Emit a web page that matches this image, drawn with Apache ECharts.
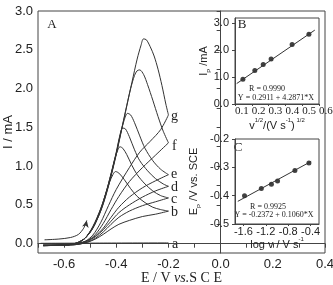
<!DOCTYPE html>
<html>
<head>
<meta charset="utf-8">
<script src="https://cdn.jsdelivr.net/npm/echarts@6/dist/echarts.min.js"></script>
<style>
  html, body { margin: 0; padding: 0; background: #fff; }
  #chart { width: 333px; height: 285px; }
</style>
</head>
<body>
<div id="chart"></div>
<script>
// ---- panel A: ticks ----
const xTicksA = [-0.7, -0.6, -0.5, -0.4, -0.3, -0.2, -0.1, 0, 0.1, 0.2, 0.3, 0.4];
const xLabelsA = [-0.6, -0.4, -0.2, 0, 0.2, 0.4];
const yTicksA = [0, 0.25, 0.5, 0.75, 1, 1.25, 1.5, 1.75, 2, 2.25, 2.5, 2.75, 3];
const yLabelsA = [0, 0.5, 1, 1.5, 2, 2.5, 3];

// ---- panel A: voltammograms [E / V, I / mA], forward + reverse scans ----
const curveA = [[-0.69, 0.005], [-0.45, 0.008], [-0.2, 0.01]];

const fwdB = [[-0.68,-0.02],[-0.62,-0.02],[-0.58,-0.012],[-0.55,0.01],[-0.52,0.07],[-0.49,0.22],[-0.46,0.45],[-0.44,0.65],[-0.425,0.8],[-0.413,0.89],[-0.403,0.93],[-0.39,0.91],[-0.37,0.83],[-0.345,0.71],[-0.32,0.61],[-0.29,0.53],[-0.26,0.47],[-0.23,0.44],[-0.2,0.42]];
const revB = [[-0.2,0.42],[-0.25,0.38],[-0.3,0.35],[-0.35,0.3],[-0.39,0.25],[-0.42,0.19],[-0.45,0.12],[-0.48,0.06],[-0.51,0.02],[-0.55,-0.01],[-0.62,-0.02],[-0.68,-0.025]];

const fwdC = [[-0.68,-0.02],[-0.62,-0.02],[-0.58,-0.012],[-0.55,0.01],[-0.52,0.07],[-0.49,0.21],[-0.46,0.44],[-0.44,0.65],[-0.42,0.9],[-0.405,1.1],[-0.395,1.2],[-0.386,1.25],[-0.375,1.23],[-0.36,1.15],[-0.34,1.01],[-0.32,0.89],[-0.29,0.77],[-0.26,0.68],[-0.23,0.62],[-0.2,0.59]];
const revC = [[-0.2,0.59],[-0.25,0.54],[-0.3,0.49],[-0.35,0.42],[-0.39,0.34],[-0.42,0.25],[-0.45,0.15],[-0.48,0.07],[-0.51,0.02],[-0.55,-0.01],[-0.62,-0.02],[-0.68,-0.025]];

const fwdD = [[-0.68,-0.02],[-0.62,-0.02],[-0.58,-0.012],[-0.55,0.01],[-0.52,0.07],[-0.49,0.21],[-0.46,0.44],[-0.44,0.65],[-0.42,0.9],[-0.40,1.18],[-0.388,1.37],[-0.376,1.49],[-0.365,1.48],[-0.35,1.38],[-0.33,1.21],[-0.31,1.07],[-0.28,0.94],[-0.25,0.84],[-0.22,0.77],[-0.2,0.74]];
const revD = [[-0.2,0.74],[-0.25,0.68],[-0.3,0.6],[-0.35,0.5],[-0.39,0.4],[-0.42,0.29],[-0.45,0.18],[-0.48,0.09],[-0.51,0.03],[-0.55,-0.01],[-0.62,-0.02],[-0.68,-0.025]];

const fwdE = [[-0.68,-0.02],[-0.62,-0.02],[-0.58,-0.012],[-0.55,0.01],[-0.52,0.07],[-0.49,0.2],[-0.46,0.43],[-0.44,0.64],[-0.42,0.89],[-0.40,1.17],[-0.385,1.4],[-0.37,1.59],[-0.357,1.68],[-0.345,1.66],[-0.33,1.56],[-0.31,1.39],[-0.29,1.23],[-0.26,1.07],[-0.23,0.96],[-0.2,0.89]];
const revE = [[-0.2,0.89],[-0.25,0.81],[-0.3,0.72],[-0.35,0.6],[-0.39,0.47],[-0.42,0.34],[-0.45,0.2],[-0.48,0.1],[-0.51,0.04],[-0.55,0],[-0.62,-0.02],[-0.68,-0.025]];

const fwdF = [[-0.68,-0.02],[-0.62,-0.02],[-0.58,-0.012],[-0.55,0.01],[-0.52,0.07],[-0.49,0.2],[-0.46,0.42],[-0.44,0.63],[-0.42,0.88],[-0.40,1.16],[-0.38,1.47],[-0.36,1.78],[-0.345,2.0],[-0.33,2.17],[-0.32,2.23],[-0.31,2.24],[-0.295,2.18],[-0.28,2.05],[-0.26,1.85],[-0.24,1.64],[-0.22,1.45],[-0.2,1.3]];
const revF = [[-0.2,1.3],[-0.25,1.14],[-0.3,0.98],[-0.35,0.8],[-0.39,0.61],[-0.42,0.44],[-0.45,0.26],[-0.48,0.12],[-0.51,0.04],[-0.55,0],[-0.62,-0.02],[-0.68,-0.025]];

const fwdG = [[-0.68,-0.02],[-0.62,-0.02],[-0.58,-0.012],[-0.55,0.01],[-0.52,0.07],[-0.49,0.2],[-0.46,0.42],[-0.44,0.62],[-0.42,0.87],[-0.40,1.15],[-0.38,1.46],[-0.36,1.77],[-0.34,2.08],[-0.32,2.38],[-0.305,2.56],[-0.296,2.64],[-0.285,2.63],[-0.27,2.54],[-0.255,2.42],[-0.24,2.25],[-0.225,2.04],[-0.21,1.8],[-0.2,1.66]];
const revG = [[-0.2,1.66],[-0.23,1.47],[-0.27,1.32],[-0.31,1.18],[-0.35,0.98],[-0.40,0.7],[-0.43,0.49],[-0.46,0.27],[-0.49,0.11],[-0.52,0.03],[-0.56,0],[-0.62,-0.02],[-0.68,-0.025]];

// scan direction arrow
const arrowPts = [[-0.675,0.05],[-0.62,0.06],[-0.575,0.08],[-0.545,0.12],[-0.525,0.2],[-0.513,0.3]];

// ---- inset B: Ip vs v^1/2 ----
const sqrtRate = [0.147, 0.218, 0.268, 0.315, 0.44, 0.54];
const peakCurrent = [0.92, 1.25, 1.47, 1.67, 2.21, 2.60];
const fitB = [[0.11, 0.76], [0.575, 2.75]];
const xTicksB = [0.1, 0.2, 0.3, 0.4, 0.5, 0.6];
const yTicksB = [0, 1, 2, 3];

// ---- inset C: Ep vs log v ----
const logRate = [-1.58, -1.28, -1.10, -0.99, -0.68, -0.43];
const peakPot = [-0.400, -0.375, -0.360, -0.348, -0.311, -0.285];
const fitC = [[-1.70, -0.42], [-0.39, -0.279]];
const xTicksC = [-1.6, -1.2, -0.8, -0.4];
const yTicksC = [-0.5, -0.4, -0.3, -0.2];

const SANS = '"Liberation Sans", Arial, sans-serif';
const SERIF = '"Liberation Serif", "Times New Roman", serif';
const INK = '#222';
const LINE = '#333';
const fmt1 = v => v.toFixed(1);

const chart = echarts.init(document.getElementById('chart'), null, { renderer: 'canvas' });

function cv(data) {
  return {
    type: 'line', xAxisIndex: 0, yAxisIndex: 0, data,
    smooth: 0.3, showSymbol: false, symbol: 'none', silent: true,
    lineStyle: { color: LINE, width: 1 }
  };
}

function axisBase(opts) {
  return Object.assign({
    type: 'value',
    splitLine: { show: false },
    nameMoveOverlap: false,
    axisLine: { show: true, lineStyle: { color: '#444', width: 1 } }
  }, opts);
}

function txt(text, x, y, font, align) {
  return {
    type: 'text', x, y, silent: true,
    style: {
      text, font, fill: INK,
      textAlign: align || 'center', align: align || 'center',
      textVerticalAlign: 'middle', verticalAlign: 'middle'
    }
  };
}

const arrowData = arrowPts.map((p, i) => i === arrowPts.length - 1
  ? { value: p, symbol: 'arrow', symbolSize: [5, 7], symbolRotate: -12 }
  : { value: p });

const gridBox = { show: true, borderColor: '#444', borderWidth: 1, containLabel: false, outerBoundsMode: 'none' };

const option = {
  animation: false,
  backgroundColor: '#fff',
  grid: [
    Object.assign({ left: 38, top: 11, width: 287, height: 242 }, gridBox),
    Object.assign({ left: 235, top: 18, width: 84, height: 86 }, gridBox),
    Object.assign({ left: 235, top: 139, width: 84, height: 85 }, gridBox)
  ],
  xAxis: [
    axisBase({
      gridIndex: 0, min: -0.7, max: 0.4,
      axisTick: { customValues: xTicksA, length: 4, lineStyle: { color: '#444' } },
      axisLabel: { customValues: xLabelsA, formatter: fmt1, fontFamily: SANS, fontSize: 13, color: INK, margin: 5 },
      name: '{n|E / V }{i|vs.}{n|S C E}', nameLocation: 'middle', nameGap: 18,
      nameTextStyle: { rich: {
        n: { fontFamily: SERIF, fontSize: 14, color: INK },
        i: { fontFamily: SERIF, fontSize: 14, fontStyle: 'italic', color: INK }
      } }
    }),
    axisBase({
      gridIndex: 1, min: 0.1, max: 0.6,
      axisTick: { customValues: xTicksB, length: 2, lineStyle: { color: '#444' } },
      axisLabel: { customValues: xTicksB, formatter: fmt1, fontFamily: SERIF, fontSize: 11, color: INK, margin: 2, align: 'left' },
      name: '{n|v}{p|1/2}{n|/(V s}{p|-1}{n|)}{p| 1/2}', nameLocation: 'middle', nameGap: 13,
      nameTextStyle: { rich: {
        n: { fontFamily: SANS, fontSize: 11, color: INK, lineHeight: 14, verticalAlign: 'bottom' },
        p: { fontFamily: SANS, fontSize: 6, color: INK, verticalAlign: 'top' }
      } }
    }),
    axisBase({
      gridIndex: 2, min: -1.75, max: -0.25,
      axisTick: { customValues: xTicksC, length: 2, lineStyle: { color: '#444' } },
      axisLabel: { customValues: xTicksC, formatter: fmt1, fontFamily: SANS, fontSize: 11, color: INK, margin: 2 },
      name: '{n|log v / V s}{p|-1}', nameLocation: 'middle', nameGap: 12,
      nameTextStyle: { rich: {
        n: { fontFamily: SANS, fontSize: 11, color: INK, lineHeight: 14, verticalAlign: 'bottom' },
        p: { fontFamily: SANS, fontSize: 6, color: INK, verticalAlign: 'top' }
      } }
    })
  ],
  yAxis: [
    axisBase({
      gridIndex: 0, min: -0.12, max: 3.0,
      axisTick: { customValues: yTicksA, length: 4, lineStyle: { color: '#444' } },
      axisLabel: { customValues: yLabelsA, formatter: fmt1, fontFamily: SANS, fontSize: 13, color: INK, margin: 5 },
      name: 'I / mA', nameLocation: 'middle', nameGap: 23, nameRotate: 90,
      nameTextStyle: { fontFamily: SANS, fontSize: 13, color: INK }
    }),
    axisBase({
      gridIndex: 1, min: 0, max: 3.2,
      axisTick: { customValues: yTicksB, length: 3, lineStyle: { color: '#444' } },
      axisLabel: { customValues: yTicksB, formatter: fmt1, fontFamily: SANS, fontSize: 11, color: INK, margin: 6 },
      name: '{n|I}{s|P}{n| /mA}', nameLocation: 'middle', nameGap: 23, nameRotate: 90,
      nameTextStyle: { rich: {
        n: { fontFamily: SANS, fontSize: 11, color: INK, lineHeight: 14, verticalAlign: 'top' },
        s: { fontFamily: SANS, fontSize: 6, color: INK, verticalAlign: 'bottom' }
      } }
    }),
    axisBase({
      gridIndex: 2, min: -0.5, max: -0.2,
      axisTick: { customValues: yTicksC, length: 3, lineStyle: { color: '#444' } },
      axisLabel: { customValues: yTicksC, formatter: fmt1, fontFamily: SANS, fontSize: 11, color: INK, margin: 6 },
      name: '{n|E}{s|P}{n| /V vs. SCE}', nameLocation: 'middle', nameGap: 33, nameRotate: 90,
      nameTextStyle: { rich: {
        n: { fontFamily: SANS, fontSize: 11, color: INK, lineHeight: 14, verticalAlign: 'top' },
        s: { fontFamily: SANS, fontSize: 6, color: INK, verticalAlign: 'bottom' }
      } }
    })
  ],
  series: [
    cv(curveA),
    cv(fwdB), cv(revB), cv(fwdC), cv(revC), cv(fwdD), cv(revD),
    cv(fwdE), cv(revE), cv(fwdF), cv(revF), cv(fwdG), cv(revG),
    {
      type: 'line', xAxisIndex: 0, yAxisIndex: 0, data: arrowData,
      smooth: 0.3, symbol: 'none', showSymbol: true, silent: true,
      lineStyle: { color: LINE, width: 1 }, itemStyle: { color: LINE }
    },
    {
      type: 'line', xAxisIndex: 1, yAxisIndex: 1, data: fitB,
      symbol: 'none', silent: true, lineStyle: { color: LINE, width: 1 }
    },
    {
      type: 'scatter', xAxisIndex: 1, yAxisIndex: 1,
      data: sqrtRate.map((x, i) => [x, peakCurrent[i]]),
      symbolSize: 5, itemStyle: { color: '#111' }, silent: true
    },
    {
      type: 'line', xAxisIndex: 2, yAxisIndex: 2, data: fitC,
      symbol: 'none', silent: true, lineStyle: { color: LINE, width: 1 }
    },
    {
      type: 'scatter', xAxisIndex: 2, yAxisIndex: 2,
      data: logRate.map((x, i) => [x, peakPot[i]]),
      symbolSize: 5, itemStyle: { color: '#111' }, silent: true
    }
  ],
  graphic: [
    txt('A', 52, 25, '13px ' + SERIF),
    txt('B', 242, 25, '13px ' + SERIF),
    txt('C', 238, 148, '13px ' + SERIF),
    txt('g', 171, 116, '14px ' + SERIF, 'left'),
    txt('f', 172, 146, '14px ' + SERIF, 'left'),
    txt('e', 171, 174, '14px ' + SERIF, 'left'),
    txt('d', 171, 187, '14px ' + SERIF, 'left'),
    txt('c', 171, 199, '14px ' + SERIF, 'left'),
    txt('b', 171, 212, '14px ' + SERIF, 'left'),
    txt('a', 172, 244, '14px ' + SERIF, 'left'),
    txt('R = 0.9990', 267, 89, '8px ' + SERIF),
    txt('Y = 0.2911 + 4.2871*X', 276, 98, '8px ' + SERIF),
    txt('R = 0.9925', 268, 207, '8px ' + SERIF),
    txt('Y = -0.2372 + 0.1060*X', 274, 215, '8px ' + SERIF)
  ]
};

chart.setOption(option);
</script>
</body>
</html>
